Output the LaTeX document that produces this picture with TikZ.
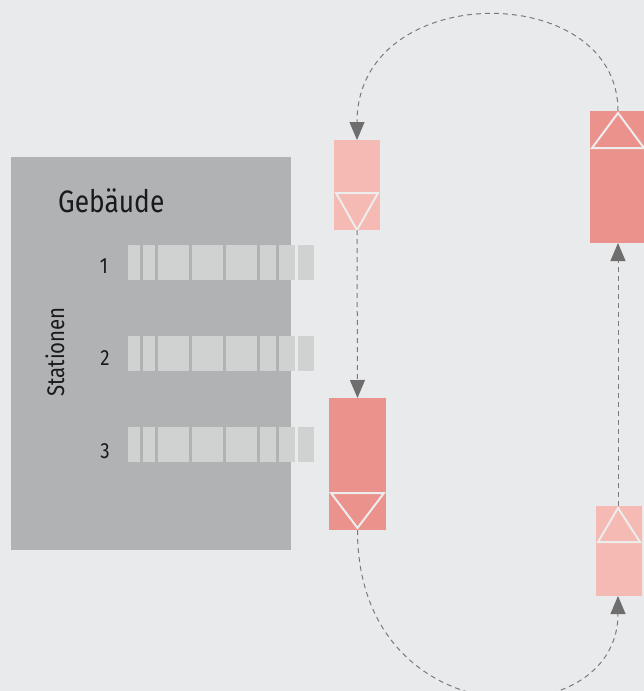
\documentclass[tikz,border=0pt]{standalone}
\usepackage{fontspec}
\setmainfont{Fira Sans}[FakeStretch=0.85]
\usetikzlibrary{arrows.meta,calc}
\definecolor{bg}{HTML}{E9EAEC}
\definecolor{bldgray}{HTML}{B1B2B4}
\definecolor{barcol}{HTML}{D0D1D1}
\definecolor{pinklight}{HTML}{F4BAB3}
\definecolor{pinkdark}{HTML}{EB928C}
\definecolor{linegray}{HTML}{7A7A7A}
\definecolor{tipgray}{HTML}{6E6E6E}
\definecolor{txt}{HTML}{1A1A1A}
\definecolor{triline}{HTML}{EDEDED}
\begin{document}
\begin{tikzpicture}[x=1pt,y=-1pt,
  building/.style={fill=bldgray,minimum width=280pt,minimum height=393pt,inner sep=0pt,outer sep=0pt},
  smallcar/.style={fill=pinklight,minimum width=46pt,minimum height=90pt,inner sep=0pt,outer sep=0pt},
  bigcar/.style={fill=pinkdark,minimum width=57pt,minimum height=132pt,inner sep=0pt,outer sep=0pt},
  tri/.style={draw=triline,line width=2pt,line join=miter},
  link/.style={draw=linegray,line width=1pt,dash pattern=on 5pt off 4pt,
    -{Triangle[length=18pt,width=15pt,fill=tipgray,color=tipgray]}},
  lab/.style={text=txt,font=\fontsize{22}{24}\selectfont,inner sep=0pt},
  barseg/.style={fill=barcol}
]
\fill[bg] (0,0) rectangle (644,691);
\useasboundingbox (0,0) rectangle (644,691);

% building
\node[building] (bld) at (151,353.5) {};
\node[text=txt,font=\fontsize{31}{34}\selectfont,inner sep=0pt,anchor=base west] (title) at (58,212) {Gebäude};
\node[lab,font=\fontsize{24}{26}\selectfont,rotate=90,anchor=base] (stat) at (64,352) {Stationen};
\node[lab,anchor=base] (s1) at (104,273) {1};
\node[lab,anchor=base] (s2) at (105,365) {2};
\node[lab,anchor=base] (s3) at (105,458) {3};

% bars
\foreach \yt in {245,336,427}{
  \foreach \xa/\xb in {128/140,143/155,158/189,192/223,226/257,260/276,279/295,298/314}{
    \fill[barseg] (\xa,\yt) rectangle (\xb,\yt+35);
  }
}

% cars
\node[smallcar] (A) at (357,185) {};
\node[bigcar] (B) at (357.5,464) {};
\node[bigcar,minimum width=56pt] (C) at (618,177) {};
\node[smallcar] (D) at (619,551) {};

% triangles
\draw[tri] ($(A.south west)+(2,-37)$) -- ($(A.south east)+(-2,-37)$) -- (A.south) -- cycle;
\draw[tri] ($(B.south west)+(2,-37)$) -- ($(B.south east)+(-2,-37)$) -- ($(B.south)+(0,-2)$) -- cycle;
\draw[tri] ($(C.north west)+(2,37)$) -- ($(C.north east)+(-2,37)$) -- ($(C.north)+(0,2)$) -- cycle;
\draw[tri] ($(D.north west)+(2,36)$) -- ($(D.north east)+(-2,36)$) -- ($(D.north)+(-1,2)$) -- cycle;

% connectors
\draw[link] (C.north) .. controls (618,-21) and (357,-21) .. (A.north);
\draw[link] (A.south) -- (B.north);
\draw[link] (B.south) .. controls (357,738) and (618,738) .. ($(D.south)+(-1,0)$);
\draw[link] ($(D.north)+(-1,0)$) -- (C.south);
\end{tikzpicture}
\end{document}
